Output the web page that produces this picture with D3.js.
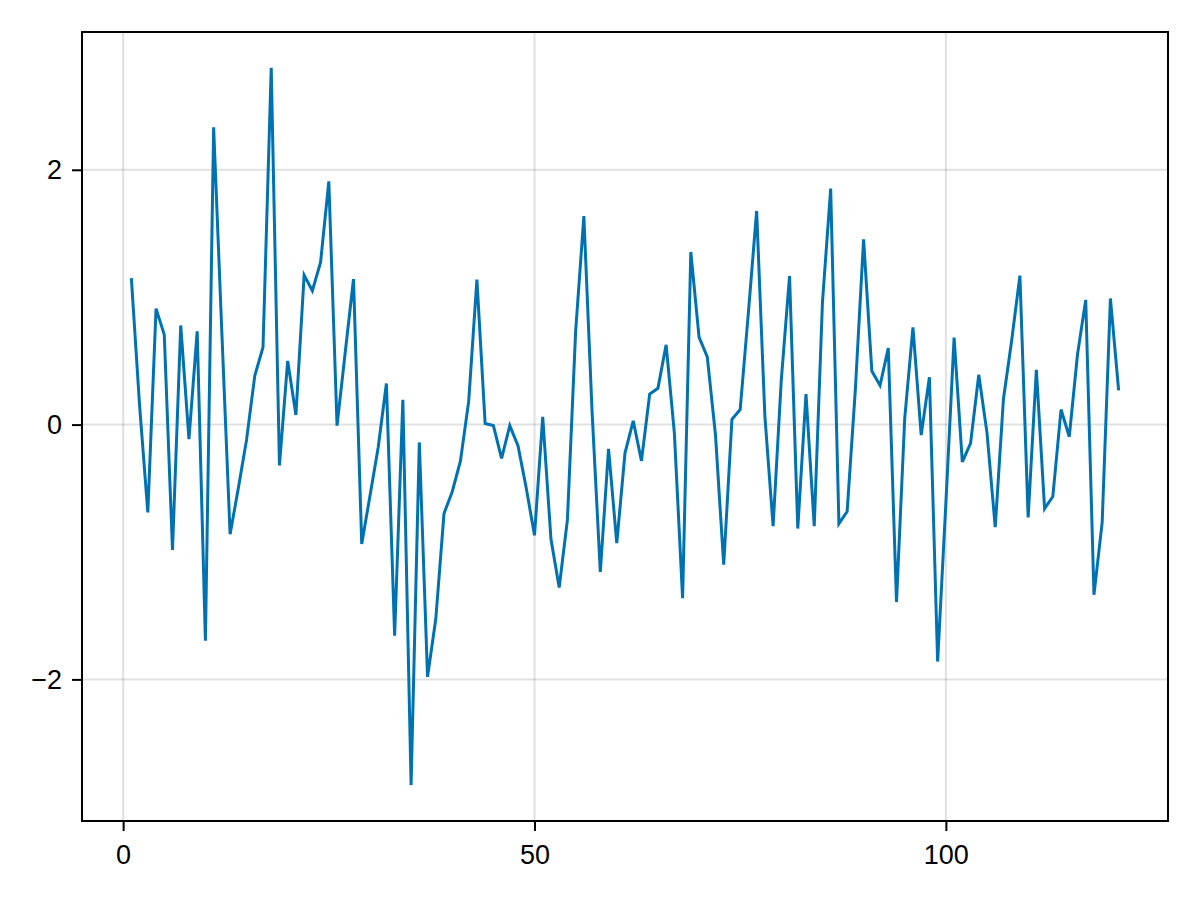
<!DOCTYPE html>
<html>
<head>
<meta charset="utf-8">
<script src="https://cdn.jsdelivr.net/npm/d3@7"></script>
<style>
  html, body { margin: 0; padding: 0; background: #ffffff; }
  svg { display: block; }
  text { font-family: "Liberation Sans", Arial, "DejaVu Sans", sans-serif; fill: #000; }
</style>
</head>
<body>
<svg id="chart" width="1200" height="900"></svg>
<script>
// Series values, x = 1..121 (observation index)
const values = [
  1.15, 0.15, -0.69, 0.91, 0.706, -0.983, 0.778, -0.114, 0.732, -1.696,
  2.334, 0.72, -0.861, -0.50, -0.12, 0.383, 0.607, 2.80, -0.32, 0.50,
  0.076, 1.173, 1.051, 1.275, 1.909, -0.008, 0.57, 1.142, -0.937, -0.56,
  -0.18, 0.323, -1.658, 0.194, -2.83, -0.14, -1.98, -1.526, -0.698, -0.527,
  -0.285, 0.182, 1.138, 0.008, -0.008, -0.266, -0.008, -0.167, -0.50, -0.869,
  0.061, -0.899, -1.279, -0.748, 0.732, 1.636, 0.1, -1.157, -0.19, -0.93,
  -0.224, 0.03, -0.285, 0.239, 0.285, 0.626, -0.065, -1.362, 1.355, 0.687,
  0.531, -0.083, -1.10, 0.042, 0.118, 0.88, 1.677, 0.068, -0.797, 0.353,
  1.165, -0.816, 0.239, -0.797, 0.96, 1.852, -0.778, -0.683, 0.277, 1.454,
  0.421, 0.307, 0.60, -1.393, 0.049, 0.763, -0.083, 0.372, -1.86, -0.62,
  0.683, -0.292, -0.148, 0.391, -0.065, -0.805, 0.201, 0.66, 1.169, -0.729,
  0.429, -0.66, -0.565, 0.118, -0.095, 0.55, 0.979, -1.336, -0.767, 0.99,
  0.269
];
const xIndex = values.map((v, i) => i + 1);
const xTicks = [0, 50, 100];
const yTicks = [-2, 0, 2];
const yTickLabels = ["\u22122", "0", "2"];
const xTickLabels = ["0", "50", "100"];

const W = 1200, H = 900;
const plot = { left: 82, right: 1168, top: 32, bottom: 821 };
const svg = d3.select("#chart");

// Makie-like autolimits: 5% margin
const xExt = d3.extent(xIndex);
const xPad = (xExt[1] - xExt[0]) * 0.05;
const yExt = d3.extent(values);
const yPad = (yExt[1] - yExt[0]) * 0.05;

const x = d3.scaleLinear().domain([xExt[0] - xPad, xExt[1] + xPad]).range([plot.left, plot.right]);
const y = d3.scaleLinear().domain([yExt[0] - yPad, yExt[1] + yPad]).range([plot.bottom, plot.top]);

// grid
const grid = svg.append("g");
grid.selectAll("line.vx").data(xTicks).enter().append("line")
  .attr("x1", d => x(d)).attr("x2", d => x(d))
  .attr("y1", plot.top).attr("y2", plot.bottom)
  .attr("stroke", "rgba(0,0,0,0.12)").attr("stroke-width", 2);
grid.selectAll("line.hy").data(yTicks).enter().append("line")
  .attr("y1", d => y(d)).attr("y2", d => y(d))
  .attr("x1", plot.left).attr("x2", plot.right)
  .attr("stroke", "rgba(0,0,0,0.12)").attr("stroke-width", 2);

// line
const line = d3.line().x((d, i) => x(xIndex[i])).y(d => y(d));
svg.append("path")
  .datum(values)
  .attr("d", line)
  .attr("fill", "none")
  .attr("stroke", "#0072b2")
  .attr("stroke-width", 3)
  .attr("stroke-linejoin", "miter");

// axes
const xAxis = d3.axisBottom(x).tickValues(xTicks).tickSize(10).tickPadding(14)
  .tickFormat((d, i) => xTickLabels[i]);
const gx = svg.append("g").attr("transform", `translate(0,${plot.bottom})`).call(xAxis);
gx.select(".domain").remove();
gx.selectAll(".tick line").attr("stroke", "#000").attr("stroke-width", 2);
gx.selectAll(".tick text").attr("font-size", 27).attr("font-family", "Liberation Sans, Arial, sans-serif").attr("fill", "#000");

const yAxis = d3.axisLeft(y).tickValues(yTicks).tickSize(10).tickPadding(10)
  .tickFormat((d, i) => yTickLabels[i]);
const gy = svg.append("g").attr("transform", `translate(${plot.left},0)`).call(yAxis);
gy.select(".domain").remove();
gy.selectAll(".tick line").attr("stroke", "#000").attr("stroke-width", 2);
gy.selectAll(".tick text").attr("font-size", 27).attr("font-family", "Liberation Sans, Arial, sans-serif").attr("fill", "#000");

// frame (spines)
svg.append("rect")
  .attr("x", plot.left).attr("y", plot.top)
  .attr("width", plot.right - plot.left).attr("height", plot.bottom - plot.top)
  .attr("fill", "none").attr("stroke", "#000").attr("stroke-width", 2);
</script>
</body>
</html>
